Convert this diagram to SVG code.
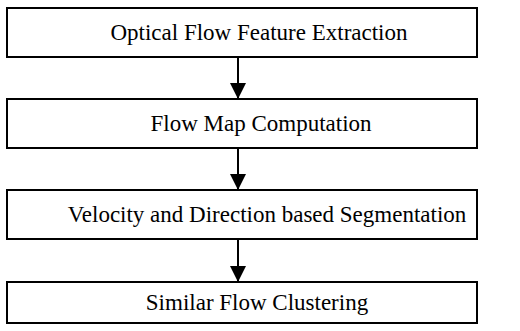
<svg xmlns="http://www.w3.org/2000/svg" width="520" height="331" viewBox="0 0 520 331">
<style>
.box{fill:#fff;stroke:#000;stroke-width:2}
.lbl{font-family:'Liberation Serif','Times New Roman',Times,serif;font-size:23px;fill:#000;text-anchor:middle}
.ln{stroke:#000;stroke-width:2;fill:none}
</style>
<defs>
<marker id="ah" markerWidth="8" markerHeight="8" refX="7.5" refY="4" orient="auto" markerUnits="strokeWidth" viewBox="0 0 8 8">
<path d="M0,0 L8,4 L0,8 Z" fill="#000"/>
</marker>
</defs>
<rect width="520" height="331" fill="#fff"/>
<g id="n1"><rect class="box" x="7" y="8" width="470" height="49"/><text class="lbl" x="259" y="40">Optical Flow Feature Extraction</text></g>
<g id="n2"><rect class="box" x="7" y="99" width="470" height="49"/><text class="lbl" x="261" y="131">Flow Map Computation</text></g>
<g id="n3"><rect class="box" x="7" y="190" width="470" height="49"/><text class="lbl" x="267" y="222">Velocity and Direction based Segmentation</text></g>
<g id="n4"><rect class="box" x="7" y="282" width="470" height="41"/><text class="lbl" x="257" y="310">Similar Flow Clustering</text></g>
<g id="edges">
<line class="ln" x1="238" y1="57" x2="238" y2="98" marker-end="url(#ah)"/>
<line class="ln" x1="238" y1="148" x2="238" y2="189" marker-end="url(#ah)"/>
<line class="ln" x1="238" y1="239" x2="238" y2="281" marker-end="url(#ah)"/>
</g>
</svg>
